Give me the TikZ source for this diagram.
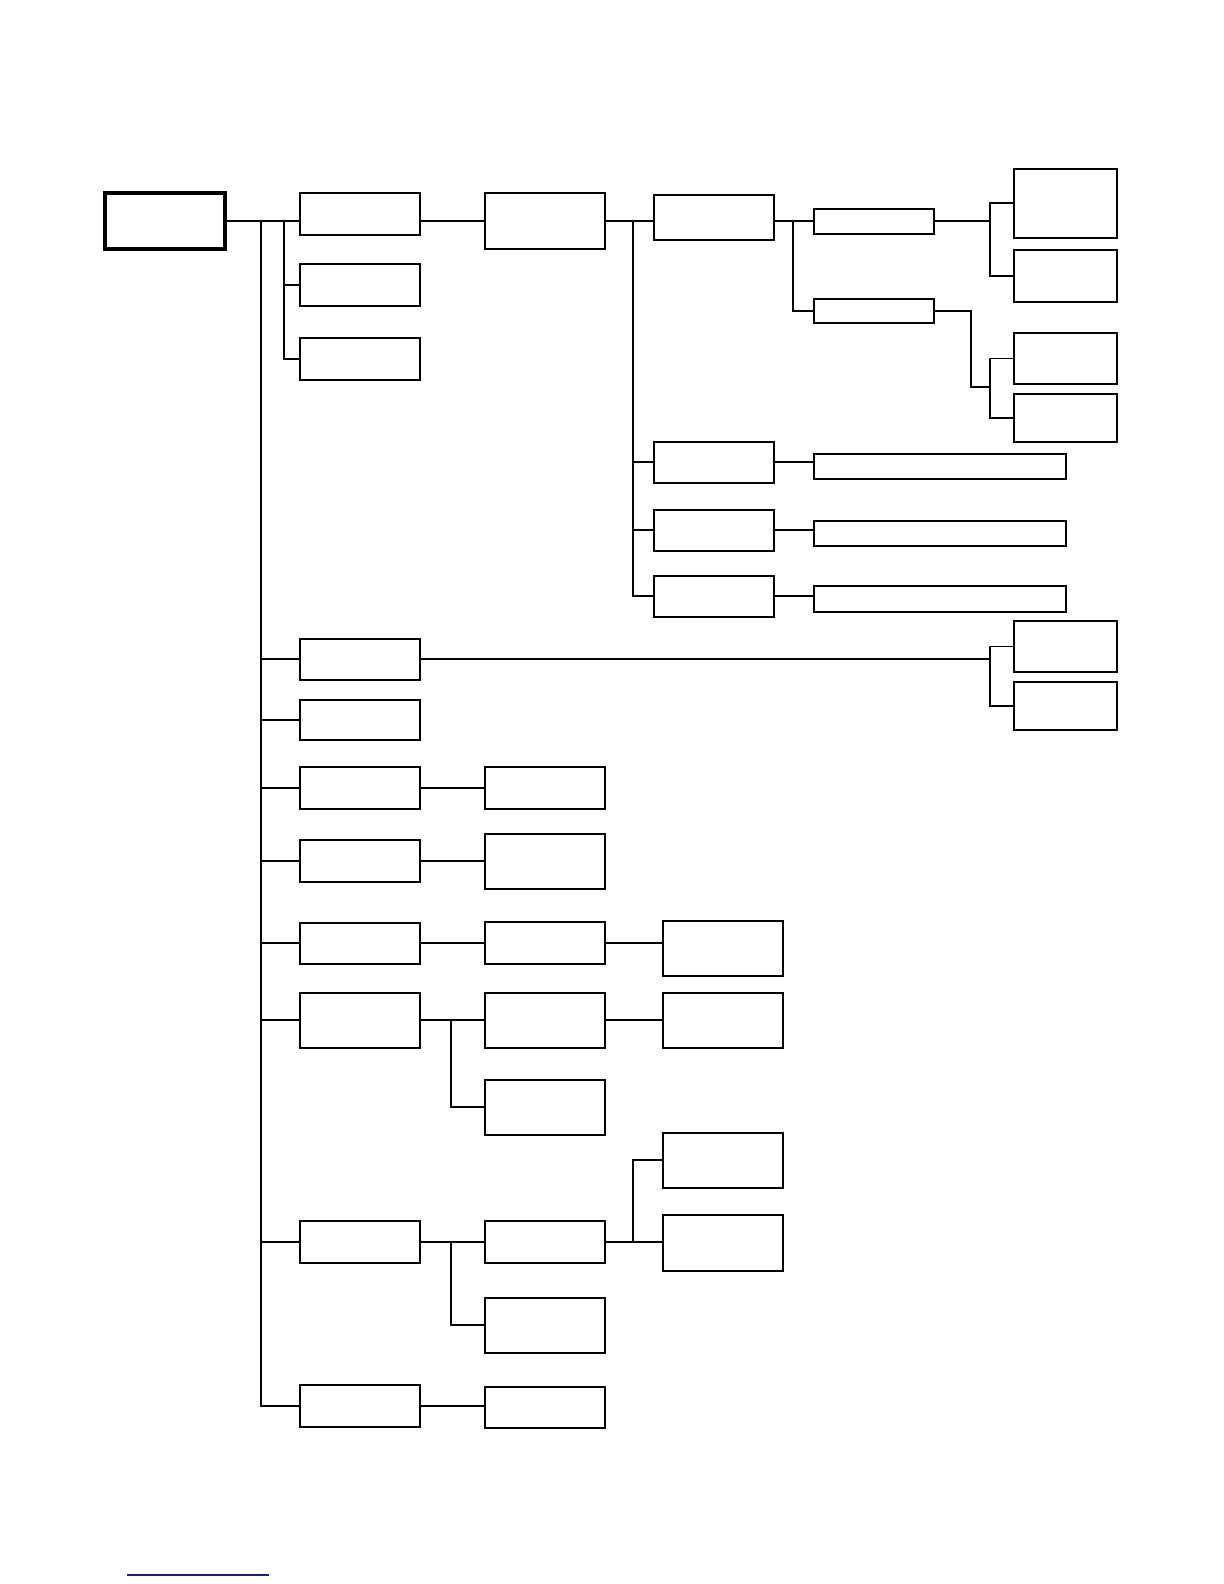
\documentclass[tikz,border=0pt]{standalone}
\usepackage{tikz}
\usetikzlibrary{calc}
\usepackage{xcolor}
\definecolor{rulecol}{HTML}{1C1C8A}

\begin{document}
\begin{tikzpicture}[x=0.5pt,y=-0.5pt,
  blk/.style={draw,line width=1pt,inner sep=0pt,minimum width=60pt,minimum height=#1},
  wide/.style={blk=#1,minimum width=126pt},
  small/.style={blk=#1,minimum width=51.5pt},
  link/.style={line width=0.8pt},
]
  \useasboundingbox (0,0) rectangle (1224,1584);
  % first column
  \node[blk=28pt,line width=1.6pt] (r) at (165,221) {};
  \node[blk=21pt] (a1) at (360,214) {};
  \node[blk=21pt] (a2) at (360,285) {};
  \node[blk=21pt] (a3) at (360,359) {};
  \node[blk=20.5pt] (a4) at (360,659) {};
  \node[blk=20pt] (a5) at (360,720) {};
  \node[blk=21pt] (a6) at (360,788) {};
  \node[blk=21pt] (a7) at (360,861) {};
  \node[blk=20.5pt] (a8) at (360,943) {};
  \node[blk=27.5pt] (a9) at (360,1020) {};
  \node[blk=21pt] (a10) at (360,1242) {};
  \node[blk=21pt] (a11) at (360,1406) {};
  % second column
  \node[blk=28pt] (b1) at (545,221) {};
  \node[blk=21pt] (b6) at (545,788) {};
  \node[blk=27.5pt] (b7) at (545,861) {};
  \node[blk=21pt] (b8) at (545,943) {};
  \node[blk=27.5pt] (b9) at (545,1020) {};
  \node[blk=27.5pt] (b9x) at (545,1107) {};
  \node[blk=21pt] (b10) at (545,1242) {};
  \node[blk=27.5pt] (b10x) at (545,1325) {};
  \node[blk=20.5pt] (b11) at (545,1407) {};
  % third column
  \node[blk=22.5pt] (c1) at (714,217) {};
  \node[blk=20.5pt] (c2) at (714,462) {};
  \node[blk=20.5pt] (c3) at (714,530) {};
  \node[blk=20.5pt] (c4) at (714,596) {};
  \node[blk=27.5pt] (g8) at (722.5,948) {};
  \node[blk=27.5pt] (g9) at (722.5,1020) {};
  \node[blk=27.5pt] (g10a) at (722.5,1160) {};
  \node[blk=28pt] (g10b) at (722.5,1243) {};
  % fourth column
  \node[blk=12.5pt] (d1) at (874,221) {};
  \node[blk=12pt] (d2) at (874,311) {};
  \node[wide=12.5pt] (f1) at (940,466) {};
  \node[wide=12.5pt] (f2) at (940,533) {};
  \node[wide=13pt] (f3) at (940,599) {};
  % last column
  \node[small=34.5pt] (e1) at (1065.5,203) {};
  \node[small=26pt] (e2) at (1065.5,276) {};
  \node[small=25.5pt] (e3) at (1065.5,358.5) {};
  \node[small=24pt] (e4) at (1065.5,418) {};
  \node[small=25.5pt] (e5) at (1065.5,646.5) {};
  \node[small=24pt] (e6) at (1065.5,706) {};

  \coordinate (t0) at (261,221);
  \coordinate (s0) at (284,221);
  \coordinate (cb) at (633,221);
  \coordinate (db) at (793,221);
  \coordinate (e12) at (990,221);
  \coordinate (e34) at (990,387);
  \coordinate (e56) at (990,659);
  \coordinate (k9) at (451,1020);
  \coordinate (k10) at (451,1242);
  \coordinate (g10) at (633,1242);

  % main trunk
  \draw[link] (r.east) -- (a1.west |- r.east);
  \draw[link] (t0) |- (a11.west);
  \foreach \n in {4,...,10}
    \draw[link] (t0 |- a\n.west) -- (a\n.west);
  \draw[link] (s0) |- (a3.west);
  \draw[link] (s0 |- a2.west) -- (a2.west);
  % upper branch
  \draw[link] (a1.east |- b1.west) -- (b1.west);
  \draw[link] (b1.east) -- (b1.east -| c1.west);
  \draw[link] (cb) |- (c4.west);
  \draw[link] (cb |- c2.west) -- (c2.west);
  \draw[link] (cb |- c3.west) -- (c3.west);
  \draw[link] (c1.east |- d1.west) -- (d1.west);
  \draw[link] (db) |- (d2.west);
  \draw[link] (d1.east) -- (e12);
  \draw[link] (e1.west) -| (e12) |- (e2.west);
  \draw[link] (d2.east) -- ++(36,0) |- (e34);
  \draw[link] (e3.west) -| (e34) |- (e4.west);
  \draw[link] (c2.east) -- (c2.east -| f1.west);
  \draw[link] (c3.east) -- (c3.east -| f2.west);
  \draw[link] (c4.east) -- (c4.east -| f3.west);
  \draw[link] (a4.east) -- (e56);
  \draw[link] (e5.west) -| (e56) |- (e6.west);
  % lower branches
  \draw[link] (a6.east) -- (a6.east -| b6.west);
  \draw[link] (a7.east) -- (a7.east -| b7.west);
  \draw[link] (a8.east) -- (a8.east -| b8.west);
  \draw[link] (b8.east) -- (b8.east -| g8.west);
  \draw[link] (a9.east) -- (a9.east -| b9.west);
  \draw[link] (b9.east) -- (b9.east -| g9.west);
  \draw[link] (k9) |- (b9x.west);
  \draw[link] (a10.east) -- (a10.east -| b10.west);
  \draw[link] (k10) |- (b10x.west);
  \draw[link] (b10.east) -- (b10.east -| g10b.west);
  \draw[link] (g10) |- (g10a.west);
  \draw[link] (a11.east) -- (a11.east -| b11.west);

  \draw[rulecol,line width=0.6pt] (127,1575) -- (269,1575);
\end{tikzpicture}
\end{document}
